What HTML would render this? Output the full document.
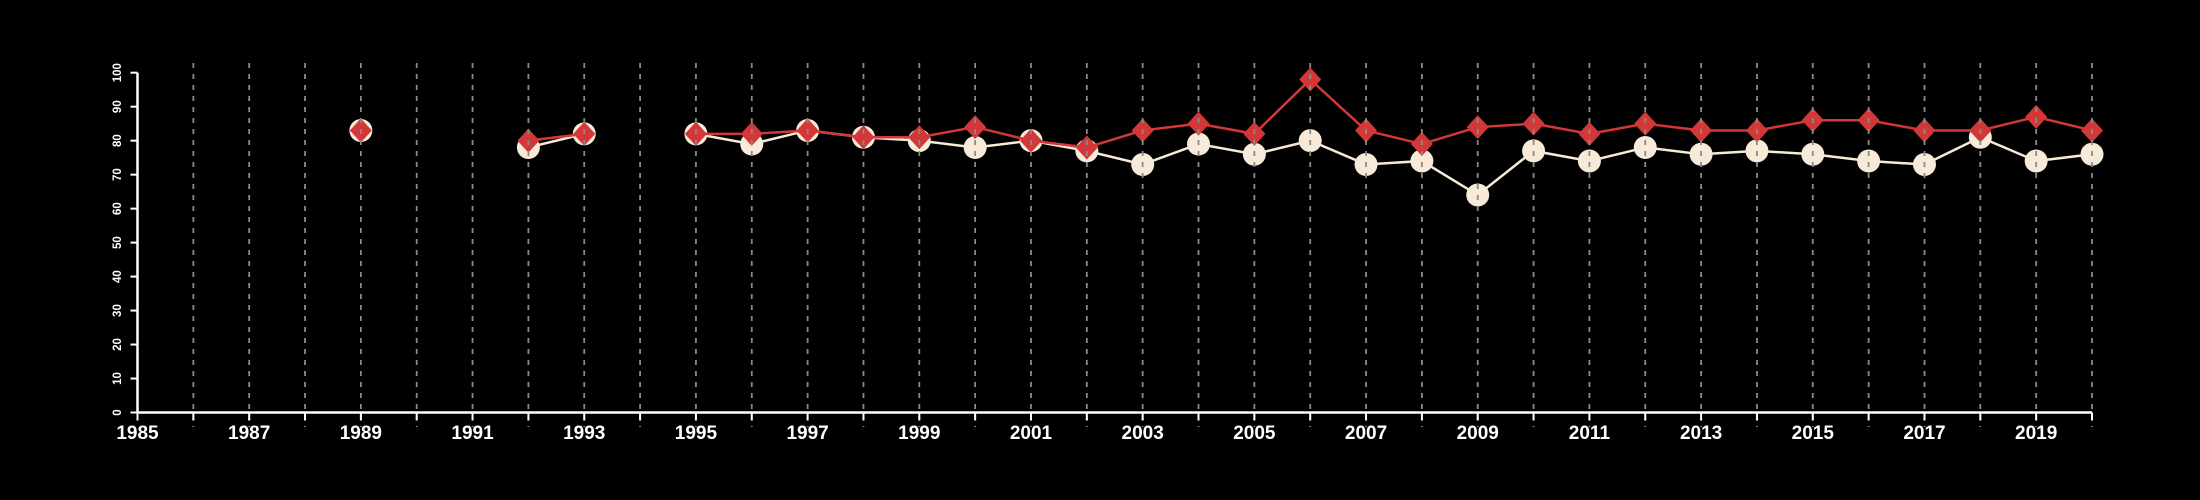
<!DOCTYPE html>
<html><head><meta charset="utf-8"><style>
html,body{margin:0;padding:0;background:#000;}
svg{display:block;}
</style></head><body>
<svg id="chart" width="2200" height="500" xmlns="http://www.w3.org/2000/svg">
<rect width="2200" height="500" fill="#000"/>
<g id="series"></g>
<g id="grid"></g>
<g id="axes"></g>
</svg>
<script>
const years = [1989,1990,1991,1992,1993,1994,1995,1996,1997,1998,1999,2000,2001,2002,2003,2004,2005,2006,2007,2008,2009,2010,2011,2012,2013,2014,2015,2016,2017,2018,2019,2020];
const circleValues = [83,null,null,78,82,null,82,79,83,81,80,78,80,77,73,79,76,80,73,74,64,77,74,78,76,77,76,74,73,81,74,76];
const diamondValues = [83,null,null,80,82,null,82,82,83,81,81,84,80,78,83,85,82,98,83,79,84,85,82,85,83,83,86,86,83,83,87,83];
const yTicks = [0,10,20,30,40,50,60,70,80,90,100];
const xLabelYears = [1985,1987,1989,1991,1993,1995,1997,1999,2001,2003,2005,2007,2009,2011,2013,2015,2017,2019];

const NS="http://www.w3.org/2000/svg";
const x0=137.5, x1=2092, yMin=1985, yMax=2020;
const py0=412.5, py100=72.7;
const X=v=>x0+(v-yMin)/(yMax-yMin)*(x1-x0);
const Y=v=>py0+(v/100)*(py100-py0);
function mk(tag,attrs,parent){const e=document.createElementNS(NS,tag);for(const k in attrs)e.setAttribute(k,attrs[k]);parent.appendChild(e);return e;}
const gS=document.getElementById('series'),gG=document.getElementById('grid'),gA=document.getElementById('axes');

for(let yr=1986;yr<=2020;yr++){
  const l=mk('line',{x1:X(yr),x2:X(yr),y1:63,y2:427,stroke:'#8a8a8a','stroke-width':1.8,'stroke-dasharray':'5,6'},gG);
  
  
}
function drawSeries(vals,color,name,marker){
  let seg=[];
  const segs=[];
  vals.forEach((v,i)=>{ if(v==null){if(seg.length)segs.push(seg);seg=[];} else seg.push([X(years[i]),Y(v)]); });
  if(seg.length)segs.push(seg);
  segs.forEach(s=>{ if(s.length>1){
    const p=mk('polyline',{points:s.map(q=>q.join(',')).join(' '),fill:'none',stroke:color,'stroke-width':2.5},gS);
    
    
  }});
  vals.forEach((v,i)=>{ if(v==null)return; const cx=X(years[i]),cy=Y(v);
    let m;
    if(marker==='circle') m=mk('circle',{cx:cx,cy:cy,r:11.5,fill:color},gS);
    else m=mk('polygon',{points:`${cx},${cy-12} ${cx+11},${cy} ${cx},${cy+12} ${cx-11},${cy}`,fill:color},gS);
    
    
  });
}
drawSeries(circleValues,'#f7ead8','cream-series','circle');
drawSeries(diamondValues,'#d43737','red-series','diamond');

const xa=mk('line',{x1:x0,x2:x1,y1:py0,y2:py0,stroke:'#fff','stroke-width':2.5},gA);


const ya=mk('line',{x1:x0,x2:x0,y1:py0,y2:py100,stroke:'#fff','stroke-width':2.5},gA);


for(let yr=1985;yr<=2020;yr++){
  const t=mk('line',{x1:X(yr),x2:X(yr),y1:py0,y2:py0+8,stroke:'#fff','stroke-width':2},gA);
  
  
}
xLabelYears.forEach(yr=>{
  const t=mk('text',{x:X(yr),y:439,'text-anchor':'middle',fill:'#fff','font-family':'Liberation Sans, sans-serif','font-size':19,'font-weight':'bold'},gA);
  t.textContent=yr;
  
  
});
yTicks.forEach(v=>{
  const t=mk('line',{x1:x0,x2:x0-7,y1:Y(v),y2:Y(v),stroke:'#fff','stroke-width':2},gA);
  
  
  const tx=mk('text',{x:0,y:0,transform:`translate(121,${Y(v)}) rotate(-90)`,'text-anchor':'middle',fill:'#fff','font-family':'Liberation Sans, sans-serif','font-size':11.5,'font-weight':'bold'},gA);
  tx.textContent=v;
  
  
});
</script>
</body></html>
